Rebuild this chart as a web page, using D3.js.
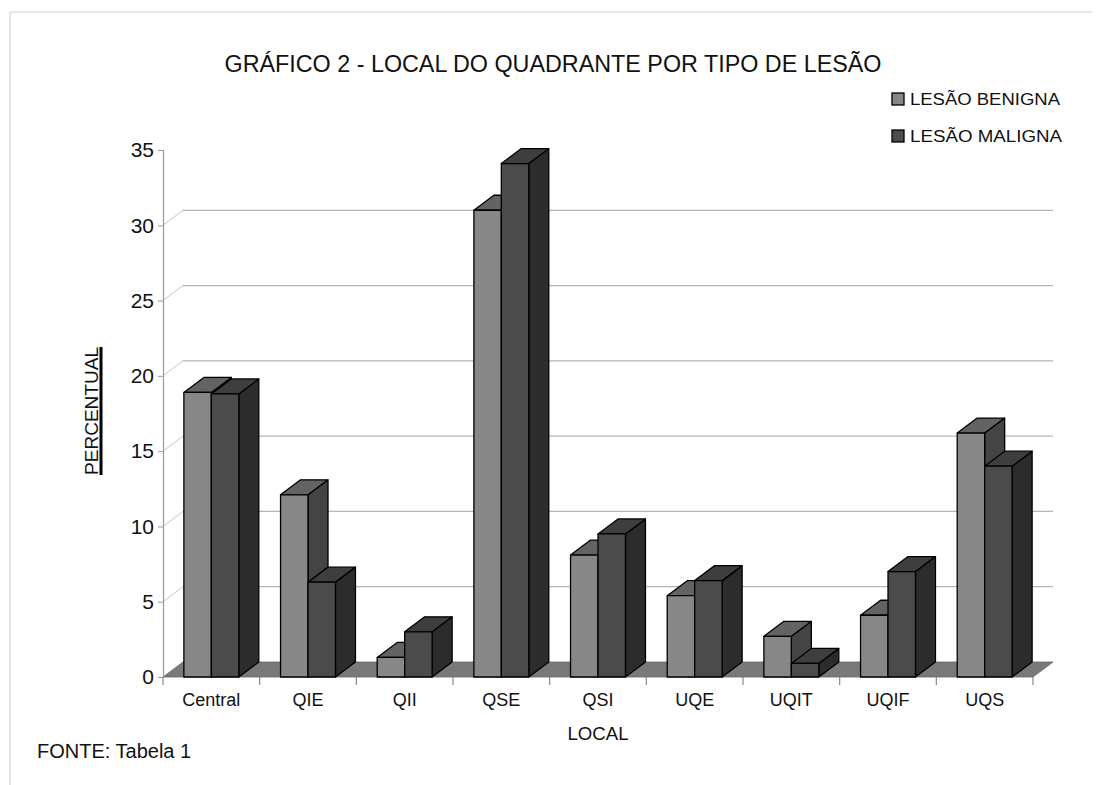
<!DOCTYPE html>
<html>
<head>
<meta charset="utf-8">
<script src="https://cdn.jsdelivr.net/npm/d3@7"></script>
<style>
  html, body { margin: 0; padding: 0; background: #fff; }
  svg { display: block; font-family: "Liberation Sans", Arial, sans-serif; }
</style>
</head>
<body>
<svg id="chart" width="1104" height="785"></svg>
<script>
const categories = ["Central", "QIE", "QII", "QSE", "QSI", "UQE", "UQIT", "UQIF", "UQS"];
const seriesNames = ["LESÃO BENIGNA", "LESÃO MALIGNA"];
const benigna = [18.9, 12.1, 1.3, 31.0, 8.1, 5.4, 2.7, 4.1, 16.2];
const maligna = [18.8, 6.3, 3.0, 34.1, 9.5, 6.4, 0.9, 7.0, 14.0];
const yTicks = [0, 5, 10, 15, 20, 25, 30, 35];
const gridValues = [5, 10, 15, 20, 25, 30];
const titleText = "GRÁFICO 2 - LOCAL DO QUADRANTE POR TIPO DE LESÃO";
const xTitle = "LOCAL";
const yTitle = "PERCENTUAL";
const sourceText = "FONTE: Tabela 1";

const svg = d3.select("#chart");
const DX = 20, DY = -15;
const x0 = 163, x1 = 1033, yTop = 150, yBase = 677;

const x = d3.scaleBand().domain(categories).range([x0, x1]).padding(0);
const xs = d3.scaleBand().domain(seriesNames).range([0, x.bandwidth()]).paddingInner(0).paddingOuter(0.76);
const y = d3.scaleLinear().domain([0, 35]).range([yBase, yTop]);

const colors = {
  "LESÃO BENIGNA": { front: "#878787", top: "#636363", side: "#444444" },
  "LESÃO MALIGNA": { front: "#4b4b4b", top: "#3e3e3e", side: "#2c2c2c" }
};

// outer frame
svg.append("line").attr("x1", 10).attr("x2", 1092).attr("y1", 12).attr("y2", 12).attr("stroke", "#cfcfcf").attr("stroke-width", 1.2);
svg.append("line").attr("x1", 10).attr("x2", 10).attr("y1", 12).attr("y2", 785).attr("stroke", "#cfcfcf").attr("stroke-width", 1.2);

// gridlines (back wall + side wall diagonal)
const grid = svg.append("g");
gridValues.forEach(v => {
  grid.append("line").attr("x1", x0 + DX).attr("x2", x1 + DX)
    .attr("y1", y(v) + DY).attr("y2", y(v) + DY).attr("stroke", "#b5b5b5").attr("stroke-width", 1.2);
  grid.append("line").attr("x1", x0).attr("x2", x0 + DX)
    .attr("y1", y(v)).attr("y2", y(v) + DY).attr("stroke", "#c5c5c5").attr("stroke-width", 1);
});

// floor
svg.append("path")
  .attr("d", `M${x0},${y(0)}L${x1},${y(0)}L${x1 + DX},${y(0) + DY}L${x0 + DX},${y(0) + DY}Z`)
  .attr("fill", "#797979").attr("stroke", "#666").attr("stroke-width", 0.8);

// y axis
const yAxis = d3.axisLeft(y).tickValues(yTicks).tickSize(5).tickPadding(4);
const yg = svg.append("g").attr("transform", `translate(${x0},0)`).call(yAxis);
yg.select(".domain").attr("stroke", "#999").attr("stroke-width", 1.2);
yg.selectAll(".tick line").attr("stroke", "#999");
yg.selectAll(".tick text").attr("font-size", 21).attr("fill", "#111").attr("font-family", "Liberation Sans, Arial, sans-serif");

// x axis
const xAxis = d3.axisBottom(x).tickSize(0).tickPadding(16);
const xg = svg.append("g").attr("transform", `translate(0,${yBase})`).call(xAxis);
xg.select(".domain").remove();
xg.selectAll(".tick text").attr("font-size", 18).attr("fill", "#111").attr("font-family", "Liberation Sans, Arial, sans-serif");
// category separator ticks
const seps = categories.map(c => x(c)).concat([x1]);
svg.append("g").selectAll("line").data(seps).join("line")
  .attr("x1", d => d).attr("x2", d => d).attr("y1", yBase).attr("y2", yBase + 8)
  .attr("stroke", "#888").attr("stroke-width", 1.2);

// bars
const bars = svg.append("g");
const series = [benigna, maligna];
categories.forEach((c, i) => {
  seriesNames.forEach((s, j) => {
    const v = series[j][i];
    const bx = x(c) + xs(s), bw = xs.bandwidth();
    const ty = y(v), by = y(0);
    const col = colors[s];
    const g = bars.append("g").attr("stroke", "#000").attr("stroke-width", 1.3).attr("stroke-linejoin", "round");
    g.append("path").attr("fill", col.side)
      .attr("d", `M${bx + bw},${by}L${bx + bw + DX},${by + DY}L${bx + bw + DX},${ty + DY}L${bx + bw},${ty}Z`);
    g.append("path").attr("fill", col.top)
      .attr("d", `M${bx},${ty}L${bx + DX},${ty + DY}L${bx + bw + DX},${ty + DY}L${bx + bw},${ty}Z`);
    g.append("rect").attr("fill", col.front)
      .attr("x", bx).attr("y", ty).attr("width", bw).attr("height", by - ty);
  });
});

// title
svg.append("text").attr("x", 553).attr("y", 72).attr("text-anchor", "middle")
  .attr("font-size", 23).attr("fill", "#111")
  .attr("textLength", 657).attr("lengthAdjust", "spacingAndGlyphs")
  .text(titleText);

// legend
const leg = svg.append("g");
seriesNames.forEach((s, j) => {
  const ly = 93 + j * 37;
  leg.append("rect").attr("x", 892).attr("y", ly).attr("width", 12).attr("height", 12)
    .attr("fill", colors[s].front).attr("stroke", "#000").attr("stroke-width", 1.3);
  leg.append("text").attr("x", 910).attr("y", ly + 12).attr("font-size", 16).attr("fill", "#111")
    .attr("textLength", 150 + j * 2).attr("lengthAdjust", "spacingAndGlyphs")
    .text(s);
});

// axis titles
svg.append("text").attr("x", 598).attr("y", 740).attr("text-anchor", "middle")
  .attr("font-size", 18).attr("fill", "#111")
  .attr("textLength", 61).attr("lengthAdjust", "spacingAndGlyphs").text(xTitle);

const yt = svg.append("g").attr("transform", "translate(98,411) rotate(-90)");
yt.append("text").attr("x", 0).attr("y", 0).attr("text-anchor", "middle")
  .attr("font-size", 18).attr("fill", "#111")
  .attr("textLength", 128).attr("lengthAdjust", "spacingAndGlyphs").text(yTitle);
yt.append("line").attr("x1", -64).attr("x2", 64).attr("y1", 3).attr("y2", 3)
  .attr("stroke", "#000").attr("stroke-width", 3);

// source
svg.append("text").attr("x", 37).attr("y", 758).attr("font-size", 20).attr("fill", "#111")
  .text(sourceText);
</script>
</body>
</html>
